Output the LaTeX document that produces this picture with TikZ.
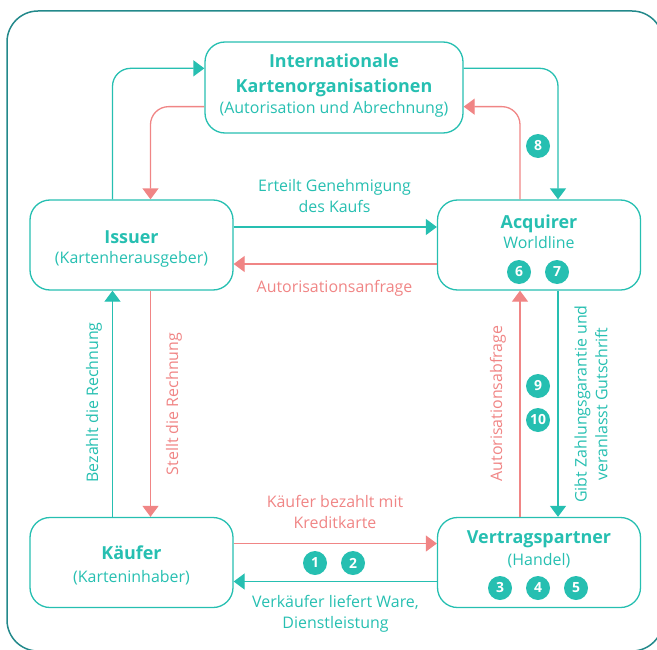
\documentclass[tikz,border=0pt]{standalone}
\usepackage{fontspec}
\setmainfont{Open Sans}
\usetikzlibrary{arrows.meta}
\definecolor{wlteal}{HTML}{26BFB1}
\definecolor{wlred}{HTML}{F08585}
\definecolor{wlframe}{HTML}{23898B}
\tikzset{
  box/.style   = {draw=wlteal, line width=1.3bp, rounded corners=20bp,
                  minimum width=203bp, minimum height=90bp, inner sep=0pt},
  head/.style  = {text=wlteal, font=\fontsize{18}{25}\selectfont\bfseries, align=center},
  sub/.style   = {text=wlteal, font=\fontsize{16}{22}\selectfont},
  flow/.style  = {line width=1.3bp, rounded corners=18bp, -{Triangle[length=11bp,width=16bp]}},
  pay/.style   = {flow, draw=wlteal},
  req/.style   = {flow, draw=wlred},
  lbl/.style   = {font=\fontsize{16}{21}\selectfont, align=center},
  badge/.style = {circle, fill=wlteal, text=white, minimum size=24bp, inner sep=0pt,
                  font=\fontsize{14}{14}\selectfont\bfseries},
}

\begin{document}
\begin{tikzpicture}[x=1bp, y=-1bp]
        \useasboundingbox (0,0) rectangle (657,650);
        \begin{scope}
            \clip (0,0) rectangle (657,650);
            \draw[wlframe, line width=1.5bp, rounded corners=31bp] (7,11) rectangle (663,651);
        \end{scope}
        % boxes
        \node[box, minimum width=258bp, minimum height=91bp] (ko) at (334,87.5) {};
        \node[box] (issuer) at (131.5,245) {};
        \node[box] (acquirer) at (539,245) {};
        \node[box] (kaeufer) at (131.5,562.5) {};
        \node[box] (vertrag) at (539,562.5) {};
        \node[head] (koT) at (334,75) {Internationale\\Kartenorganisationen};
        \node[sub, anchor=base] (koS) at (334,114) {(Autorisation und Abrechnung)};
        \node[head, anchor=base] (issuerT) at (131.5,243) {Issuer};
        \node[sub, anchor=base] (issuerS) at (131.5,263) {(Kartenherausgeber)};
        \node[head, anchor=base] (acquirerT) at (539,228) {Acquirer};
        \node[sub, anchor=base] (acquirerS) at (539,248) {Worldline};
        \node[head, anchor=base] (kaeuferT) at (131.5,559) {Käufer};
        \node[sub, anchor=base] (kaeuferS) at (131.5,582) {(Karteninhaber)};
        \node[head, anchor=base] (vertragT) at (539,543) {Vertragspartner};
        \node[sub, anchor=base] (vertragS) at (539,565) {(Handel)};
        % connectors
        \draw[pay] ([xshift=-19bp]issuer.north) |- ([yshift=-27bp]ko.north west);
        \draw[req] ([yshift=27bp]ko.south west) -| ([xshift=19bp]issuer.north);
        \draw[pay] ([yshift=-27bp]ko.north east) -| ([xshift=19bp]acquirer.north);
        \draw[req] ([xshift=-19bp]acquirer.north) |- ([yshift=27bp]ko.south east);
        \draw[pay] ([yshift=18bp]issuer.east) -- ([yshift=18bp]acquirer.west);
        \draw[req] ([yshift=-19bp]acquirer.west) -- ([yshift=-19bp]issuer.east);
        \draw[pay] ([xshift=-19bp]kaeufer.north) -- ([xshift=-19bp]issuer.south);
        \draw[req] ([xshift=19bp]issuer.south) -- ([xshift=19bp]kaeufer.north);
        \draw[req] ([yshift=19bp]kaeufer.east) -- ([yshift=19bp]vertrag.west);
        \draw[pay] ([yshift=-19bp]vertrag.west) -- ([yshift=-19bp]kaeufer.east);
        \draw[req] ([xshift=-19bp]vertrag.north) -- ([xshift=-19bp]acquirer.south);
        \draw[pay] ([xshift=19bp]acquirer.south) -- ([xshift=19bp]vertrag.north);
        % labels
        \node[lbl, text=wlteal] (lGen) at (334.5,196) {Erteilt Genehmigung\\des Kaufs};
        \node[lbl, text=wlred, anchor=base] (lAnf) at (334.5,292) {Autorisationsanfrage};
        \node[lbl, text=wlteal, rotate=90, anchor=base] (lBez) at (98,402.5) {Bezahlt die Rechnung};
        \node[lbl, text=wlred, rotate=90, anchor=base] (lSte) at (178,404) {Stellt die Rechnung};
        \node[lbl, text=wlred] (lKre) at (335,512) {Käufer bezahlt mit\\Kreditkarte};
        \node[lbl, text=wlteal] (lWar) at (335.5,614) {Verkäufer liefert Ware,\\Dienstleistung};
        \node[lbl, text=wlred, rotate=90, anchor=base] (lAbf) at (502,403.5) {Autorisationsabfrage};
        \node[lbl, text=wlteal, rotate=90] (lGut) at (591,404) {Gibt Zahlungsgarantie und\\veranlasst Gutschrift};
        % steps
        \foreach \n/\x/\y in {1/315/563, 2/353/563, 3/500/588, 4/538/588, 5/576/588,
                              6/519/272, 7/557/272, 8/538/146, 9/538/386, 10/538/420} {
            \node[badge] (step\n) at (\x,\y) {\n};
        }
\end{tikzpicture}
\end{document}
